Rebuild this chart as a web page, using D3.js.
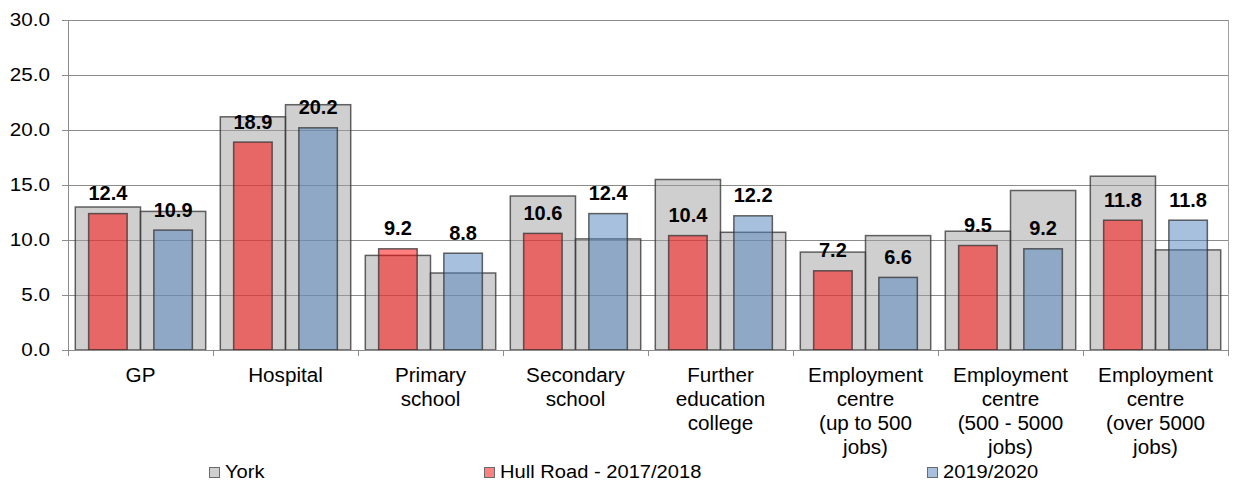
<!DOCTYPE html>
<html>
<head>
<meta charset="utf-8">
<script src="https://cdn.jsdelivr.net/npm/d3@7"></script>
<style>
  html, body { margin: 0; padding: 0; background: #fff; }
  svg { display: block; font-family: "Liberation Sans", Arial, sans-serif; }
</style>
</head>
<body>
<svg id="chart" width="1234" height="483"></svg>
<script>
// Categories (each label split into its display lines)
const categories = ["GP", "Hospital", "Primary school", "Secondary school",
  "Further education college", "Employment centre (up to 500 jobs)",
  "Employment centre (500 - 5000 jobs)", "Employment centre (over 5000 jobs)"];
const categoryLines = [
  ["GP"], ["Hospital"], ["Primary", "school"], ["Secondary", "school"],
  ["Further", "education", "college"],
  ["Employment", "centre", "(up to 500", "jobs)"],
  ["Employment", "centre", "(500 - 5000", "jobs)"],
  ["Employment", "centre", "(over 5000", "jobs)"]
];

// York comparison values: one behind each Hull Road period
const york2017 = [13.0, 21.2, 8.6, 14.0, 15.5, 8.9, 10.8, 15.8];
const york2019 = [12.6, 22.3, 7.0, 10.1, 10.7, 10.4, 14.5, 9.1];
// Hull Road values
const hull2017 = [12.4, 18.9, 9.2, 10.6, 10.4, 7.2, 9.5, 11.8];
const hull2019 = [10.9, 20.2, 8.8, 12.4, 12.2, 6.6, 9.2, 11.8];

const yTicks = [0, 5, 10, 15, 20, 25, 30];
const legendLabels = ["York", "Hull Road - 2017/2018", "2019/2020"];

const svg = d3.select("#chart");
const plotLeft = 68, plotRight = 1228, plotTop = 20, plotBottom = 350;

const x = d3.scaleBand().domain(categories).range([plotLeft, plotRight]).padding(0);
const inner = d3.scaleBand().domain([0, 1])
  .range([7.3, x.bandwidth() - 7.3]).padding(0);
const y = d3.scaleLinear().domain([0, 30]).range([plotBottom, plotTop]);

const gridColor = "#8c8c8c";

// Horizontal gridlines
svg.append("g").selectAll("line").data(yTicks.filter(d => d > 0)).join("line")
  .attr("x1", plotLeft).attr("x2", plotRight)
  .attr("y1", d => y(d)).attr("y2", d => y(d))
  .attr("stroke", gridColor).attr("stroke-width", 1).attr("shape-rendering", "crispEdges");

// Plot frame (left axis and right edge)
svg.append("line").attr("x1", plotLeft).attr("x2", plotLeft).attr("y1", plotTop).attr("y2", plotBottom)
  .attr("stroke", gridColor).attr("shape-rendering", "crispEdges");
svg.append("line").attr("x1", plotRight).attr("x2", plotRight).attr("y1", plotTop).attr("y2", plotBottom)
  .attr("stroke", "#a0a0a0").attr("shape-rendering", "crispEdges");

// Y axis ticks and labels
const yAxis = svg.append("g");
yAxis.selectAll("line").data(yTicks).join("line")
  .attr("x1", plotLeft - 6).attr("x2", plotLeft)
  .attr("y1", d => y(d)).attr("y2", d => y(d))
  .attr("stroke", gridColor).attr("shape-rendering", "crispEdges");
yAxis.selectAll("text").data(yTicks).join("text")
  .attr("transform", d => `translate(50,${y(d) + 6.2}) scale(1.18,1)`)
  .attr("text-anchor", "end")
  .attr("font-size", 17.5).attr("fill", "#000")
  .text(d => d3.format(".1f")(d));

// Grey York bars
const grey = svg.append("g");
categories.forEach((c, i) => {
  [york2017[i], york2019[i]].forEach((v, k) => {
    grey.append("rect")
      .attr("x", x(c) + inner(k)).attr("width", inner.bandwidth())
      .attr("y", y(v)).attr("height", y(0) - y(v))
      .attr("fill", "rgba(160,160,160,0.5)")
      .attr("stroke", "rgba(50,50,50,0.75)").attr("stroke-width", 1.5);
  });
});

// Hull Road bars
const barW = 38.5;
const seriesColors = ["rgba(255,0,0,0.5)", "rgba(79,129,189,0.5)"];
const bars = svg.append("g");
const labels = svg.append("g");
categories.forEach((c, i) => {
  [hull2017[i], hull2019[i]].forEach((v, k) => {
    const cx = x(c) + inner(k) + inner.bandwidth() / 2;
    bars.append("rect")
      .attr("x", cx - barW / 2).attr("width", barW)
      .attr("y", y(v)).attr("height", y(0) - y(v))
      .attr("fill", seriesColors[k])
      .attr("stroke", "rgba(50,50,50,0.75)").attr("stroke-width", 1.5);
    labels.append("text")
      .attr("x", cx).attr("y", y(v) - 13.5)
      .attr("text-anchor", "middle")
      .attr("font-size", 20).attr("font-weight", "bold").attr("fill", "#000")
      .text(d3.format(".1f")(v));
  });
});

// X axis line, category ticks and labels
svg.append("line").attr("x1", plotLeft).attr("x2", plotRight).attr("y1", plotBottom).attr("y2", plotBottom)
  .attr("stroke", gridColor).attr("shape-rendering", "crispEdges");
const edges = categories.map(c => x(c)).concat([plotRight]);
svg.append("g").selectAll("line").data(edges).join("line")
  .attr("x1", d => d).attr("x2", d => d)
  .attr("y1", plotBottom).attr("y2", plotBottom + 6)
  .attr("stroke", gridColor).attr("shape-rendering", "crispEdges");

const catG = svg.append("g");
categories.forEach((c, i) => {
  const cx = x(c) + x.bandwidth() / 2;
  categoryLines[i].forEach((line, j) => {
    catG.append("text")
      .attr("transform", `translate(${cx},${382 + j * 24}) scale(1.06,1)`)
      .attr("text-anchor", "middle")
      .attr("font-size", 19.5).attr("fill", "#000")
      .text(line);
  });
});

// Legend
const legendX = [209, 484, 927];
const legendFill = ["#d0d0d0", "#ff8080", "#a7c0de"];
const legend = svg.append("g");
legendLabels.forEach((t, i) => {
  legend.append("rect")
    .attr("x", legendX[i] + 0.5).attr("y", 467.5).attr("width", 10).attr("height", 10)
    .attr("fill", legendFill[i]).attr("stroke", "#6a6a6a").attr("stroke-width", 1);
  legend.append("text")
    .attr("transform", `translate(${legendX[i] + 16},478) scale(1.06,1)`)
    .attr("font-size", 19).attr("fill", "#000")
    .text(t);
});
</script>
</body>
</html>
